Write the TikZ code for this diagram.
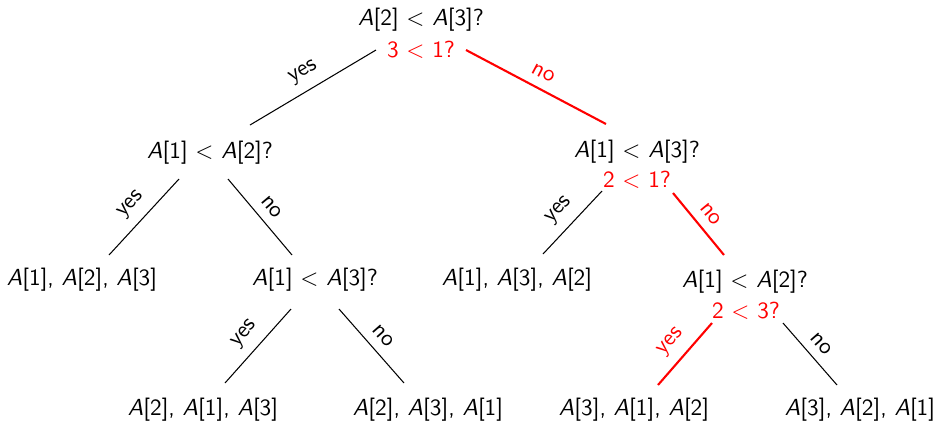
\documentclass[tikz,border=0pt]{standalone}
\usepackage{tikz}
\usetikzlibrary{positioning}
\newcommand{\elem}[1]{\textsl{A}[#1]}

\begin{document}
\begin{tikzpicture}[
    x=0.43pt, y=-0.43pt,
    font=\sffamily,
    q/.style={inner sep=1pt},
    chk/.style={text=red, inner sep=1pt},
    edge/.style={line width=0.45pt},
    hot/.style={red, line width=0.9pt},
    lbl/.style={midway, sloped, above, inner sep=4pt}
]
\useasboundingbox (0,0) rectangle (938,424);

% questions and the red checks below them
\node[q] (root) at (421,20) {\elem{2} $<$ \elem{3}?};
\node[chk] (c1) at (421,50) {3 $<$ 1?};
\node[q] (n2) at (210,153) {\elem{1} $<$ \elem{2}?};
\node[q] (n3) at (637,152) {\elem{1} $<$ \elem{3}?};
\node[chk] (c3) at (637,180) {2 $<$ 1?};
\node[q] (lr) at (315,280) {\elem{1} $<$ \elem{3}?};
\node[q] (rr) at (745,282) {\elem{1} $<$ \elem{2}?};
\node[chk] (c5) at (746,311) {2 $<$ 3?};

% leaves
\node[q] (ll) at (82,280) {\elem{1}, \elem{2}, \elem{3}};
\node[q] (rl) at (517,280) {\elem{1}, \elem{3}, \elem{2}};
\node[q] (lrl) at (203,410) {\elem{2}, \elem{1}, \elem{3}};
\node[q] (lrr) at (428,410) {\elem{2}, \elem{3}, \elem{1}};
\node[q] (rrl) at (634,410) {\elem{3}, \elem{1}, \elem{2}};
\node[q] (rrr) at (860,410) {\elem{3}, \elem{2}, \elem{1}};

\draw[edge] ([shift={(-45,0)}]c1.center) -- node[lbl] {yes} ([shift={(40,-28)}]n2.center);
\draw[hot] ([shift={(45,0)}]c1.center) -- node[lbl] {no} ([shift={(-31,-28)}]n3.center);
\draw[edge] ([shift={(-31,26)}]n2.center) -- node[lbl] {yes} ([shift={(27,-25)}]ll.center);
\draw[edge] ([shift={(18,26)}]n2.center) -- node[lbl] {no} ([shift={(-23,-25)}]lr.center);
\draw[edge] ([shift={(-35,11)}]c3.center) -- node[lbl] {yes} ([shift={(26,-26)}]rl.center);
\draw[hot] ([shift={(36,13)}]c3.center) -- node[lbl] {no} ([shift={(-21,-27)}]rr.center);
\draw[edge] ([shift={(-24,29)}]lr.center) -- node[lbl] {yes} ([shift={(22,-27)}]lrl.center);
\draw[edge] ([shift={(24,29)}]lr.center) -- node[lbl] {no} ([shift={(-24,-27)}]lrr.center);
\draw[hot] ([shift={(-34,12)}]c5.center) -- node[lbl] {yes} ([shift={(24,-25)}]rrl.center);
\draw[edge] ([shift={(37,12)}]c5.center) -- node[lbl] {no} ([shift={(-23,-25)}]rrr.center);
\end{tikzpicture}
\end{document}
